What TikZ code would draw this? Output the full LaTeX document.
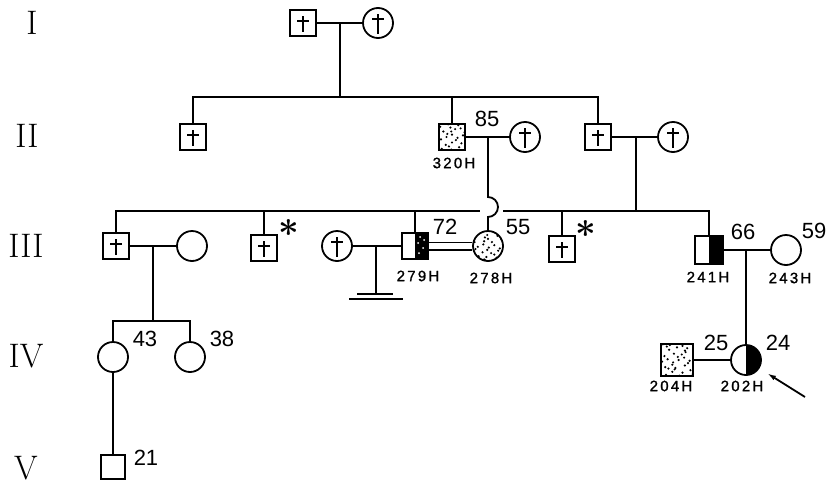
\documentclass[tikz,border=0pt]{standalone}
\usepackage{amsmath}
\usepackage{graphicx}
\usepackage{fontspec}
\newfontfamily\numfont{Liberation Sans}
\newfontfamily\idfont[LetterSpace=15, FakeBold=1.2]{Liberation Sans}
\usetikzlibrary{positioning,arrows.meta}

\tikzset{
  male/.style={draw, rectangle, minimum size=26pt, inner sep=0pt},
  female/.style={draw, circle, minimum size=30pt, inner sep=0pt},
  dead/.style={path picture={
      \draw ([yshift=-6pt]path picture bounding box.north) -- ([yshift=4pt]path picture bounding box.south);
      \draw ([shift={(-6pt,-11pt)}]path picture bounding box.north) -- ++(12pt,0pt);}},
  stipple/.style={path picture={
      \foreach \i in {-3,...,3}
        \foreach \j in {-3,...,3}{
          \pgfmathsetmacro\dx{5.5*\i + 0.8*mod(abs(7*\i*\i + 13*\j + 5*\i*\j + #1),7) - 2.4}
          \pgfmathsetmacro\dy{5.5*\j + 0.8*mod(abs(11*\j*\j + 3*\i + 7*\i*\j + 2*#1),7) - 2.4}
          \fill ([shift={(\dx pt,\dy pt)}]path picture bounding box.center) circle (1.2pt);}}},
  stipple/.default=1,
  halfblack/.style={path picture={
      \fill (path picture bounding box.north) rectangle (path picture bounding box.south east);}},
  halfstip/.style={path picture={
      \fill (path picture bounding box.north) rectangle (path picture bounding box.south east);
      \foreach \dx/\dy in {4/-7, 8/-2, 3/3, 9/6, 5/9}
        \fill[white] ([shift={(\dx pt,\dy pt)}]path picture bounding box.center) circle (1pt);}},
  num/.style={font=\numfont\fontsize{22}{22}\selectfont, inner sep=0pt},
  idno/.style={font=\idfont\fontsize{15}{15}\selectfont, inner sep=0pt},
  gen/.style={font=\fontsize{34}{34}\selectfont, inner sep=0pt},
  star/.style={inner sep=0pt},
}
\newcommand{\bigast}{\scalebox{3.6}{$\boldsymbol{\ast}$}}

\begin{document}
\begin{tikzpicture}[x=1pt, y=-1pt, line width=1.8pt]
  \useasboundingbox (0,0) rectangle (830,485);

  % Generation numbers
  \node[gen] (gI) at (32,23) {I};
  \node[gen] (gII) at (27,136) {II};
  \node[gen] (gIII) at (26,246) {III};
  \node[gen] (gIV) at (26,356) {IV};
  \node[gen] (gV) at (26,468) {V};

  % Generation I
  \node[male, dead] (i1) at (303,23) {};
  \node[female, dead] (i2) at (378,23) {};
  \draw (i1) -- (i2);
  \coordinate (jI) at (340,23);
  \coordinate (sII) at (340,97);
  \draw (jI) -- (sII);

  % Generation II
  \node[male, dead] (ii1) at (193,137) {};
  \node[male, stipple=3] (ii2) at (452,137) {};
  \node[female, dead] (ii3) at (525,137) {};
  \node[male, dead] (ii4) at (598,137) {};
  \node[female, dead] (ii5) at (673,137) {};
  \draw (ii1.north) |- (sII) -| (ii4.north);
  \draw (ii2.north) -- (ii2.north |- sII);
  \draw (ii2) -- (ii3);
  \draw (ii4) -- (ii5);
  \node[num] (n85) at (487,119) {85};
  \node[idno] (id320) at (454,163) {320H};
  \coordinate (jIIa) at (488,137);
  \coordinate (jIIb) at (636,137);

  % Generation III
  \node[male, dead] (iii1) at (116,246) {};
  \node[female] (iii2) at (192,246) {};
  \node[male, dead] (iii3) at (264,248) {};
  \node[female, dead] (iii4) at (337,246) {};
  \node[male, halfstip] (iii5) at (415,246) {};
  \node[female, stipple=4] (iii6) at (488,246) {};
  \node[male, dead] (iii7) at (562,249) {};
  \node[male, halfblack, minimum size=28pt] (iii8) at (709,250) {};
  \node[female] (iii9) at (786,250) {};
  \coordinate (sIII) at (636,211);
  \coordinate (gapL) at (480,211);
  \coordinate (gapR) at (503,211);
  \draw (jIIb) -- (sIII);
  \draw (iii1.north) |- (gapL);
  \draw (gapR) -| (iii8.north);
  \foreach \c in {iii3, iii5, iii7}
    \draw (\c.north) -- (\c.north |- sIII);
  \draw (jIIa) -- (488,197) arc[start angle=90, end angle=-90, radius=10pt] -- (iii6.north);
  \draw (iii1) -- (iii2);
  \draw (iii4) -- (iii5);
  \draw[double, double distance=6pt, line width=1.5pt] (iii5) -- (iii6);
  \draw (iii8) -- (iii9);
  \node[star] (st1) at (289,228) {\bigast};
  \node[star] (st2) at (586,229) {\bigast};
  \node[num] (n72) at (445,227) {72};
  \node[num] (n55) at (518,227) {55};
  \node[num] (n66) at (743,232) {66};
  \node[num] (n59) at (814,231) {59};
  \node[idno] (id279) at (418,276) {279H};
  \node[idno] (id278) at (491,278) {278H};
  \node[idno] (id241) at (708,277) {241H};
  \node[idno] (id243) at (790,278) {243H};

  % No offspring
  \coordinate (jIII2) at (376,246);
  \coordinate (nob) at (376,294);
  \draw (jIII2) -- (nob);
  \draw (357,294) -- (393,294);
  \draw[line width=1.2pt] (349,299) -- (403,299);

  % Generation IV
  \node[female] (iv1) at (113,357) {};
  \node[female] (iv2) at (190,357) {};
  \node[male, stipple=5, minimum size=32pt] (iv3) at (677,360) {};
  \node[female, halfblack] (iv4) at (746,360) {};
  \coordinate (jIII1) at (153,246);
  \coordinate (sIV) at (153,321);
  \draw (jIII1) -- (sIV);
  \draw (iv1.north) |- (sIV) -| (iv2.north);
  \coordinate (jIII3) at (746,250);
  \draw (jIII3) -- (iv4.north);
  \draw (iv3) -- (iv4);
  \node[num] (n43) at (145,339) {43};
  \node[num] (n38) at (222,339) {38};
  \node[num] (n25) at (716,343) {25};
  \node[num] (n24) at (778,343) {24};
  \node[idno] (id204) at (671,386) {204H};
  \node[idno] (id202) at (742,386) {202H};

  % Proband arrow
  \coordinate (arrtail) at (805,397);
  \draw[-{Latex[length=9pt,width=5pt]}, shorten >=9pt] (arrtail) -- (iv4);

  % Generation V
  \node[male, minimum size=24pt] (v1) at (113,467) {};
  \draw (iv1) -- (v1);
  \node[num] (n21) at (146,458) {21};
\end{tikzpicture}
\end{document}
